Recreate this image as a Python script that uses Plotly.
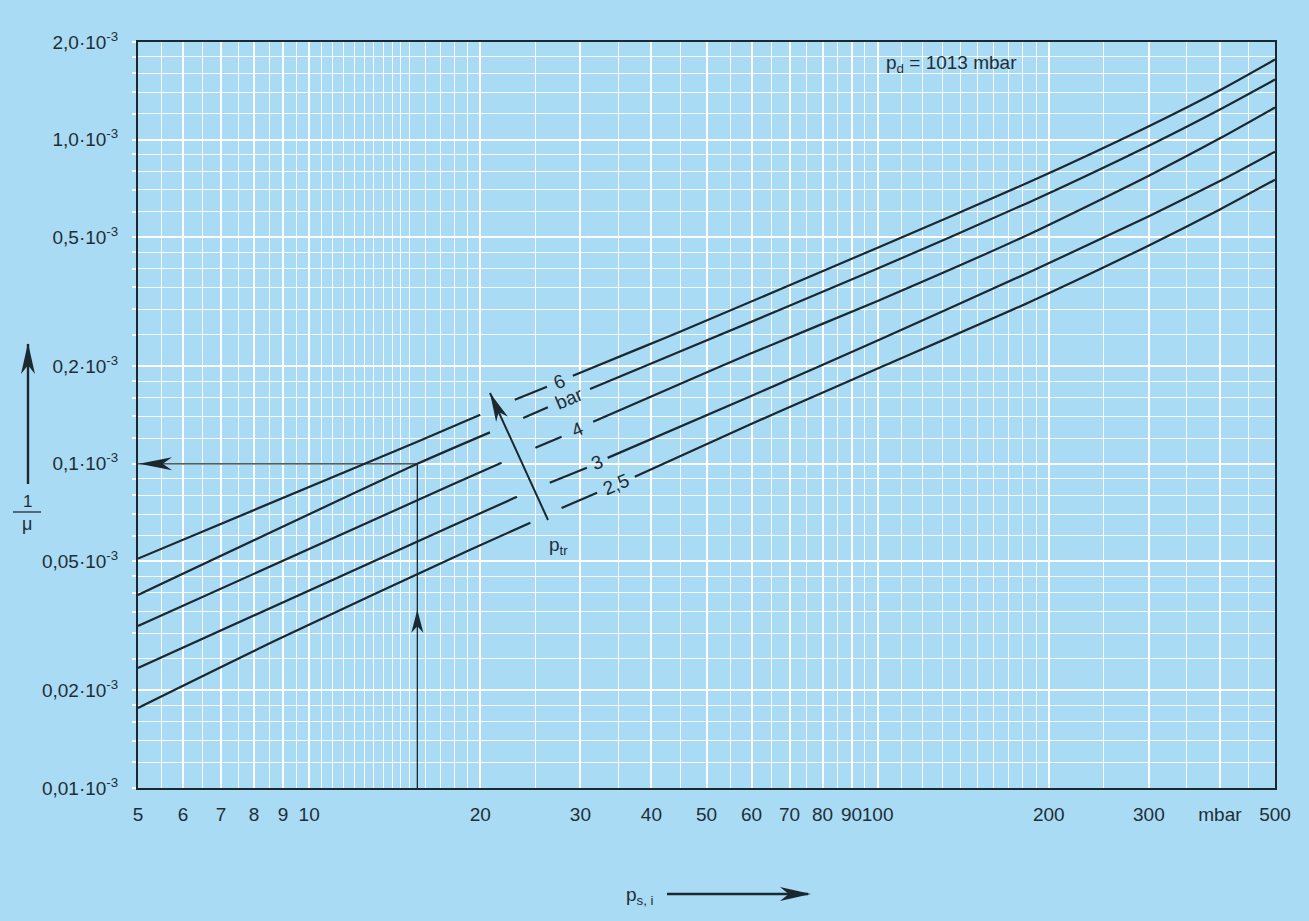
import numpy as np
import plotly.graph_objects as go

# ---------------------------------------------------------------------------
# Reciprocal compression ratio 1/mu (units of 10^-3) versus intake pressure
# p_s,i [mbar] for several transfer pressures p_tr, at p_d = 1013 mbar.
# ---------------------------------------------------------------------------
PS_6 = [5, 15.5, 20.0, 23.0, 26.2, 29.1, 38.6, 44.8, 100, 184, 300, 400, 500]
INV_MU_6 = [0.051, 0.117, 0.1417, 0.1576, 0.1729, 0.1869, 0.229, 0.255,
            0.464, 0.737, 1.10, 1.42, 1.766]

PS_5 = [5, 15.5, 20.8, 23.8, 26.3, 31.2, 44.8, 100, 184, 300, 400, 500]
INV_MU_5 = [0.0394, 0.100, 0.1250, 0.1385, 0.1495, 0.1700, 0.2215, 0.400,
            0.639, 0.958, 1.239, 1.532]

PS_4 = [5, 17.7, 21.8, 25.0, 27.8, 31.6, 44.8, 59.5, 100, 184, 300, 400, 500]
INV_MU_4 = [0.0316, 0.0857, 0.1007, 0.1120, 0.1212, 0.1348, 0.176, 0.218,
            0.318, 0.509, 0.774, 1.009, 1.256]

PS_3 = [5, 17.7, 23.2, 26.5, 30.8, 33.5, 59.5, 100, 184, 300, 400, 500]
INV_MU_3 = [0.02347, 0.0639, 0.0791, 0.0874, 0.0972, 0.1043, 0.161, 0.2399,
            0.3886, 0.580, 0.745, 0.918]

PS_25 = [5, 8.8, 19.2, 24.5, 27.8, 32.1, 37.4, 59.5, 74.9, 100, 184,
         300, 400, 500]
INV_MU_25 = [0.01766, 0.0287, 0.0543, 0.0658, 0.0731, 0.0814, 0.0912,
             0.132, 0.1576, 0.1967, 0.314, 0.4716, 0.6086, 0.752]

# worked example: p_s,i = 15.5 mbar at 5 bar -> 1/mu = 0.1e-3
EXAMPLE_PS = 15.5
EXAMPLE_INV_MU = 0.1

X_TICKS = [5, 6, 7, 8, 9, 10, 20, 30, 40, 50, 60, 70, 80, 90, 100, 200, 300, 400, 500]
X_TICK_TEXT = ["5", "6", "7", "8", "9", "10", "20", "30", "40", "50", "60", "70",
               "80", "90", "100", "200", "300", "mbar", "500"]
Y_TICKS = [0.01, 0.02, 0.05, 0.1, 0.2, 0.5, 1.0, 2.0]
Y_TICK_TEXT = ["0,01", "0,02", "0,05", "0,1", "0,2", "0,5", "1,0", "2,0"]

# ---------------------------------------------------------------------------
# styling
# ---------------------------------------------------------------------------
BG = "#a9dbf4"
INK = "#1b2830"
TEXT = "#1f2e36"
FONT = "Liberation Sans, Arial, sans-serif"

FIG_W, FIG_H = 1309, 921
M_L, M_R, M_T, M_B = 138, 34, 42, 133
PLOT_W = FIG_W - M_L - M_R
PLOT_H = FIG_H - M_T - M_B

X_RANGE = [np.log10(5), np.log10(500)]
Y_RANGE = [np.log10(0.01), np.log10(2.0)]

# pen lifts: the line is interrupted between these neighbouring points
GAPS = {
    "6": [(20.0, 23.0), (26.2, 29.1)],
    "bar": [(20.8, 23.8), (26.3, 31.2)],
    "4": [(21.8, 25.0), (27.8, 31.6)],
    "3": [(23.2, 26.5), (30.8, 33.5)],
    "2,5": [(24.5, 27.8), (32.1, 37.4)],
}

CURVES = [
    ("6", PS_6, INV_MU_6),
    ("bar", PS_5, INV_MU_5),
    ("4", PS_4, INV_MU_4),
    ("3", PS_3, INV_MU_3),
    ("2,5", PS_25, INV_MU_25),
]


def rulings(segments):
    """Fine rulings of the log graph paper: (start, stop, step) ranges."""
    vals = set()
    for a, b, st in segments:
        for v in np.arange(a, b + 1e-9, st):
            vals.add(round(float(v), 5))
    return sorted(vals)


X_MINOR = [v for v in rulings([(5, 10, 0.5), (10, 15, 0.5), (15, 20, 1),
                               (20, 100, 5), (100, 200, 10), (200, 500, 50)])
           if v not in X_TICKS]
Y_MINOR = [v for v in rulings([(0.01, 0.02, 0.002), (0.02, 0.05, 0.005), (0.05, 0.1, 0.01),
                               (0.1, 0.2, 0.02), (0.2, 0.5, 0.05), (0.5, 1.0, 0.1),
                               (1.0, 2.0, 0.2)])
           if v not in Y_TICKS]


def to_px(x, y):
    px = M_L + (np.log10(x) - X_RANGE[0]) / (X_RANGE[1] - X_RANGE[0]) * PLOT_W
    py = M_T + PLOT_H - (np.log10(y) - Y_RANGE[0]) / (Y_RANGE[1] - Y_RANGE[0]) * PLOT_H
    return px, py


def paper(px, py):
    return (px - M_L) / PLOT_W, (M_T + PLOT_H - py) / PLOT_H


def head_path(tip, tail, length, half):
    """Slim barbed arrow head, built in pixels, returned as a paper path."""
    tx, ty = tip
    dx, dy = tx - tail[0], ty - tail[1]
    n = np.hypot(dx, dy)
    ux, uy = dx / n, dy / n
    vx, vy = -uy, ux
    bx, by = tx - ux * length, ty - uy * length
    nx, ny = tx - ux * length * 0.72, ty - uy * length * 0.72
    pts = [(tx, ty), (bx + vx * half, by + vy * half), (nx, ny),
           (bx - vx * half, by - vy * half)]
    pp = [paper(*p) for p in pts]
    return "M {:.5f},{:.5f} L {:.5f},{:.5f} L {:.5f},{:.5f} L {:.5f},{:.5f} Z".format(
        *[c for p in pp for c in p])


def with_gaps(xs, ys, gaps):
    ox, oy = [], []
    for i, (x, y) in enumerate(zip(xs, ys)):
        ox.append(x)
        oy.append(y)
        if i + 1 < len(xs) and (x, xs[i + 1]) in gaps:
            ox.append(None)
            oy.append(None)
    return ox, oy


fig = go.Figure()

# pressure curves with their in-line labels
annotations = []
for name, xs, ys in CURVES:
    gx, gy = with_gaps(xs, ys, GAPS[name])
    fig.add_trace(go.Scatter(x=gx, y=gy, mode="lines", connectgaps=False,
                             line=dict(color=INK, width=2.2, shape="spline", smoothing=0.6),
                             hoverinfo="skip", showlegend=False))
    a, b = GAPS[name][1]
    ia, ib = xs.index(a), xs.index(b)
    lx = np.sqrt(xs[ia] * xs[ib])
    ly = np.sqrt(ys[ia] * ys[ib])
    annotations.append(dict(x=np.log10(lx), y=np.log10(ly), xref="x", yref="y",
                            text=name, showarrow=False, textangle=-23,
                            font=dict(size=19, color=TEXT, family=FONT),
                            xanchor="center", yanchor="middle"))

# worked-example guide lines
fig.add_trace(go.Scatter(x=[EXAMPLE_PS, EXAMPLE_PS, X_TICKS[0]],
                         y=[Y_TICKS[0], EXAMPLE_INV_MU, EXAMPLE_INV_MU],
                         mode="lines", line=dict(color=INK, width=1.3),
                         hoverinfo="skip", showlegend=False))

shapes = []
gx_px, gy_px = to_px(EXAMPLE_PS, EXAMPLE_INV_MU)
bx_px, by_px = to_px(EXAMPLE_PS, Y_TICKS[0])
lx_px, _ = to_px(X_TICKS[0], EXAMPLE_INV_MU)
# upward head on the vertical guide
tip_up = (gx_px, by_px - 0.55 * (by_px - gy_px))
shapes.append(dict(type="path", xref="paper", yref="paper",
                   path=head_path(tip_up, (tip_up[0], tip_up[1] + 10), 23, 6),
                   fillcolor=INK, line=dict(width=0)))
# leftward head at the ordinate
tip_left = (lx_px + 1, gy_px)
shapes.append(dict(type="path", xref="paper", yref="paper",
                   path=head_path(tip_left, (tip_left[0] + 10, gy_px), 33, 6.5),
                   fillcolor=INK, line=dict(width=0)))

# p_tr direction arrow across the family of curves
ptr_tail, ptr_tip = (548, 520), (490, 393)
p0, p1 = paper(*ptr_tail), paper(*ptr_tip)
shapes.append(dict(type="line", xref="paper", yref="paper",
                   x0=p0[0], y0=p0[1], x1=p1[0], y1=p1[1],
                   line=dict(color=INK, width=2)))
shapes.append(dict(type="path", xref="paper", yref="paper",
                   path=head_path(ptr_tip, ptr_tail, 29, 6.5),
                   fillcolor=INK, line=dict(width=0)))

# ordinate title arrow and 1/mu fraction bar
ya0, ya1 = paper(28, 484), paper(28, 344)
shapes.append(dict(type="line", xref="paper", yref="paper",
                   x0=ya0[0], y0=ya0[1], x1=ya1[0], y1=ya1[1],
                   line=dict(color=INK, width=2.4)))
shapes.append(dict(type="path", xref="paper", yref="paper",
                   path=head_path((28, 343), (28, 484), 31, 7),
                   fillcolor=INK, line=dict(width=0)))
f0, f1 = paper(13, 512), paper(41, 512)
shapes.append(dict(type="line", xref="paper", yref="paper",
                   x0=f0[0], y0=f0[1], x1=f1[0], y1=f1[1],
                   line=dict(color=TEXT, width=1.3)))

# abscissa title arrow
xa0, xa1 = paper(667, 894), paper(808, 894)
shapes.append(dict(type="line", xref="paper", yref="paper",
                   x0=xa0[0], y0=xa0[1], x1=xa1[0], y1=xa1[1],
                   line=dict(color=INK, width=2.4)))
shapes.append(dict(type="path", xref="paper", yref="paper",
                   path=head_path((811, 894), (667, 894), 31, 7),
                   fillcolor=INK, line=dict(width=0)))


def text_at(px, py, text, size=19, xanchor="center"):
    x, y = paper(px, py)
    return dict(x=x, y=y, xref="paper", yref="paper", text=text,
                showarrow=False, xanchor=xanchor, yanchor="middle",
                font=dict(size=size, color=TEXT, family=FONT))


annotations += [
    text_at(884, 64, "p<sub>d</sub> = 1013 mbar", size=19, xanchor="left"),
    text_at(558, 546, "p<sub>tr</sub>", size=19),
    text_at(624, 896, "p<sub>s, i</sub>", size=19, xanchor="left"),
    text_at(27, 501, "1", size=17),
    text_at(27, 524, "\u03bc", size=18),
]

axis_common = dict(
    type="log", showline=True, mirror=True, linecolor=INK, linewidth=2,
    zeroline=False, tickmode="array", showgrid=True, gridcolor="white",
    tickfont=dict(size=19, color=TEXT, family=FONT),
)

fig.update_layout(
    width=FIG_W, height=FIG_H,
    margin=dict(l=M_L, r=M_R, t=M_T, b=M_B, autoexpand=False),
    paper_bgcolor=BG, plot_bgcolor=BG,
    showlegend=False,
    shapes=shapes,
    annotations=annotations,
    xaxis=dict(
        **axis_common, range=X_RANGE, tickvals=X_TICKS, ticktext=X_TICK_TEXT,
        tickangle=0, gridwidth=1.6, ticks="", ticklabelstandoff=8,
        minor=dict(tickvals=X_MINOR, showgrid=True, gridcolor="rgba(255,255,255,0.92)",
                   gridwidth=1.1, ticks=""),
    ),
    yaxis=dict(
        **axis_common, range=Y_RANGE, tickvals=Y_TICKS,
        ticktext=[t + "\u00b710<sup>-3</sup>" for t in Y_TICK_TEXT],
        gridwidth=2.2, ticks="outside", ticklen=4, tickcolor="white", tickwidth=1.5,
        ticklabelstandoff=10,
        minor=dict(tickvals=Y_MINOR, showgrid=True, gridcolor="rgba(255,255,255,0.92)",
                   gridwidth=1.3, ticks="outside", ticklen=4, tickcolor="white"),
    ),
)

fig.write_html("out.html")
